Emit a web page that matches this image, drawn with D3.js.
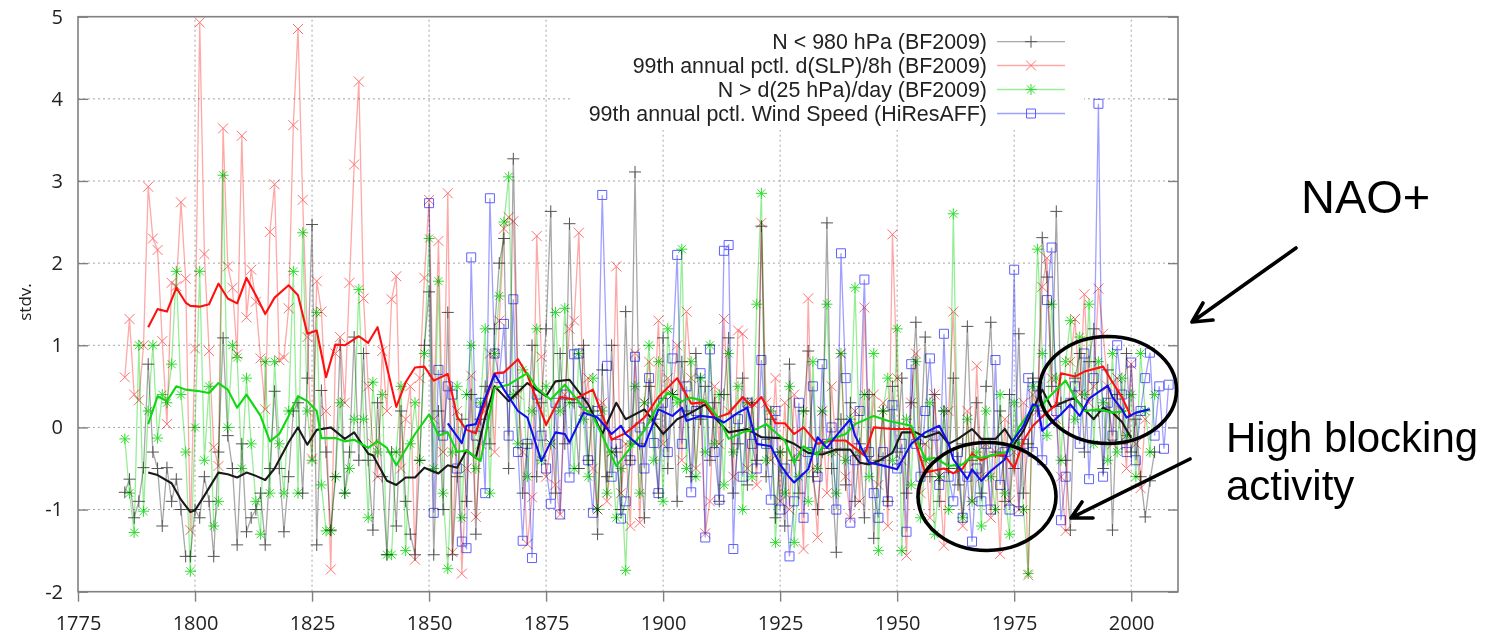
<!DOCTYPE html>
<html><head><meta charset="utf-8">
<script src="https://cdn.jsdelivr.net/npm/d3@7"></script>
<style>body{margin:0;background:#fff}svg{display:block}</style>
</head><body>
<svg id="c" width="1493" height="637"></svg>
<script>
// ---------- DATA ----------
const xTicks = [1775, 1800, 1825, 1850, 1875, 1900, 1925, 1950, 1975, 2000];
const yTicks = [-2, -1, 0, 1, 2, 3, 4, 5];
const seriesNames = [
  "N < 980 hPa (BF2009)",
  "99th annual pctl. d(SLP)/8h (BF2009)",
  "N > d(25 hPa)/day (BF2009)",
  "99th annual pctl. Wind Speed (HiResAFF)"
];
const startBF = 1785;
const startWind = 1850;

// N < 980 hPa, annual (1785-2005)
const stormsN = [
  -0.79,-0.63,-1.10,-0.90,-0.49,
  0.77,-0.30,-0.50,-1.20,-0.49,-0.90,-0.63,-1.00,-1.57,-1.57,
  -1.00,-1.10,-0.60,-0.90,-1.57,-0.30,1.09,-0.10,-0.50,-1.43,
  -0.20,-1.27,-1.10,-1.00,-0.80,-1.43,-0.50,0.44,-0.50,-1.27,
  -0.60,0.20,0.30,-0.80,0.60,2.47,-1.43,0.45,-0.30,-1.25,
  -0.60,1.00,-0.80,-0.30,1.10,-0.40,0.90,-0.40,-1.25,0.30,
  -0.60,-1.55,-0.30,-1.20,0.20,-0.90,-1.30,-1.55,-0.40,1.00,
  1.65,-1.55,0.20,-1.00,1.40,-1.55,-0.60,0.10,-0.90,0.40,
  -1.30,0.10,0.50,-0.20,1.20,2.00,2.30,-0.50,3.27,0.50,
  -0.80,-0.20,1.00,-0.60,0.30,1.20,2.63,-0.80,0.90,-0.20,
  2.48,0.30,-0.50,1.00,-0.40,0.20,-1.30,0.70,-0.60,1.00,
  -0.30,-1.00,1.41,-0.40,3.11,-0.20,-1.10,0.50,0.10,-0.80,
  1.09,-0.50,0.40,-0.90,0.80,0.20,-0.60,0.90,0.10,0.50,
  -0.40,0.30,-0.90,0.40,1.09,-0.80,-0.20,0.60,-0.70,0.30,
  -0.40,2.45,-0.60,0.10,-1.10,-0.30,-1.20,0.77,-0.40,-0.80,
  0.20,0.93,-0.60,-1.00,-0.30,2.49,-0.50,-1.52,0.10,-0.70,
  0.30,-0.90,-0.20,-1.10,0.40,-1.35,-0.40,0.20,-0.90,0.50,
  -0.30,0.60,-0.80,0.30,1.28,-0.20,1.10,-0.60,0.40,-0.90,
  0.20,-0.50,0.60,-0.70,-0.20,1.23,-0.40,0.30,-0.80,0.50,
  1.28,-0.30,0.20,-0.90,0.40,-0.50,1.14,-0.80,-0.20,0.60,
  0.20,2.31,1.83,0.50,2.63,0.30,-0.40,-1.25,0.60,0.90,
  -0.30,0.80,1.20,0.20,-0.50,0.70,-1.25,0.40,-0.20,0.90,
  -0.30,0.10,-0.60,-1.09,-0.65,-0.30
];
// 99th pctl d(SLP)/8h, annual (1785-2003)
const slpTend = [
  0.61,1.32,0.40,0.33,1.00,
  2.93,2.30,2.16,1.05,0.04,1.76,1.72,2.74,1.81,-1.25,
  0.96,4.93,2.11,0.93,-0.24,-0.47,3.64,1.96,1.70,0.89,
  3.55,1.34,1.92,1.53,0.84,0.22,2.38,2.96,0.82,0.85,
  1.45,3.68,4.85,2.77,1.10,-0.38,1.78,1.41,0.20,-1.73,
  0.90,1.10,0.30,1.76,3.20,4.21,1.57,0.50,-0.20,-0.60,
  0.93,0.20,1.56,1.84,-0.50,0.10,0.50,-1.61,0.60,1.82,
  2.77,0.10,2.27,-0.30,2.85,-1.52,0.20,-1.78,-0.50,0.63,
  -1.09,-0.20,0.20,0.90,-0.30,1.30,2.42,2.56,2.51,0.40,
  -0.30,-1.42,-0.85,2.33,0.86,-0.60,-0.20,-0.70,-1.06,0.40,
  1.20,1.30,2.37,0.20,0.60,-0.50,-1.00,0.30,-0.90,-0.30,
  1.96,-0.80,-0.20,-1.20,0.90,-1.16,0.30,0.80,0.10,1.30,
  -0.20,0.60,0.40,1.00,-0.40,1.41,0.60,-0.50,0.30,-1.29,
  -0.90,0.50,-0.20,1.32,0.20,-0.60,1.18,1.14,-0.50,0.30,
  -0.70,2.49,0.30,-0.40,0.60,-0.90,0.30,-1.00,0.40,-0.30,
  -1.48,1.57,-0.50,-1.34,0.20,-0.80,0.50,-0.30,0.90,-0.60,
  -1.10,0.20,-0.90,1.46,-0.40,0.40,-0.70,0.30,-1.20,2.35,
  0.60,-0.40,-1.56,0.30,0.90,-0.80,-0.20,-1.10,0.40,-0.60,
  -1.44,0.20,1.41,-0.50,-1.20,0.20,-0.90,0.75,-0.60,-0.20,
  -1.10,-0.30,-1.54,0.10,-0.90,-0.30,-1.00,0.30,-1.80,0.40,
  0.20,1.71,2.06,0.60,0.10,-0.60,-1.26,0.80,1.32,0.40,
  1.62,0.30,0.50,1.69,1.14,0.50,-0.20,0.60,0.20,-0.50,
  0.77,-0.20,-0.74,0.10
];
// N > d(25 hPa)/day, annual (1785-2005)
const deepening = [
  -0.14,-0.80,-1.28,1.00,-1.02,
  0.20,1.00,-0.13,0.40,0.30,0.77,1.90,0.40,-0.30,-1.75,
  0.00,1.90,-0.40,0.50,-1.20,-0.90,3.07,0.00,1.00,0.85,
  -0.50,0.60,-0.20,-0.90,-1.30,0.80,-0.80,0.80,-0.20,-0.80,
  0.20,1.90,-0.80,2.37,0.20,-0.40,1.40,-0.70,-1.26,-1.26,
  -0.60,0.30,-0.80,-0.50,0.10,1.68,0.10,-1.10,0.55,-0.30,
  0.40,-1.55,-1.55,-0.30,0.50,-1.50,-0.20,0.30,-0.40,0.90,
  2.30,-0.50,1.78,-0.80,-1.72,-0.30,0.50,-1.10,0.40,1.00,
  -0.50,0.30,1.20,-0.80,0.90,1.60,2.50,3.05,0.40,-0.20,
  0.70,-0.60,0.20,1.20,-0.40,0.50,-0.20,1.40,0.20,1.45,
  0.30,-0.50,0.90,0.10,-0.60,0.60,-1.00,0.20,-0.80,-0.30,
  -1.10,-0.50,-1.74,-0.20,0.50,-0.80,0.30,1.00,-0.40,0.80,
  -0.90,1.20,0.40,0.30,2.17,-0.50,0.80,-0.60,0.60,-0.30,
  1.00,-0.20,0.40,-0.70,0.90,-0.30,0.50,-1.00,0.30,-0.60,
  1.50,2.85,-0.40,0.20,-1.40,-0.30,-0.80,0.50,-1.40,-0.60,
  0.20,-0.90,0.80,-0.50,0.20,1.50,-0.30,-0.80,0.90,-0.40,
  0.10,1.70,-0.30,0.40,-0.60,0.90,-1.50,0.20,0.60,-0.40,
  1.20,-1.50,0.10,-0.70,0.80,-1.10,-0.40,0.30,-1.30,-0.60,
  0.20,-1.00,2.60,-0.50,-1.10,0.10,-0.90,-0.30,-1.20,0.20,
  -0.60,-1.00,0.40,-0.80,-1.30,0.30,-0.20,-1.00,-1.78,0.50,
  2.17,0.90,-0.10,1.50,0.60,-0.40,0.80,1.30,0.10,1.10,
  0.40,1.50,-0.20,0.80,0.30,-0.40,0.90,-0.30,0.60,-0.10,
  0.40,-0.60,0.90,0.20,-0.30,0.40
];
// 99th pctl wind speed (HiResAFF), annual (1850-2008)
const windSpeed = [
  2.73,-1.04,0.70,-0.10,0.50,0.40,-0.50,-1.39,-1.47,2.07,
  -0.10,0.30,-0.80,2.79,0.90,0.60,1.26,-0.10,1.56,-0.30,
  -1.38,-0.20,-1.59,0.40,-0.10,-0.50,-0.93,0.30,-1.06,0.40,
  -0.61,0.89,0.90,0.30,-0.40,-1.04,0.20,2.83,0.75,-0.60,
  -0.20,-1.11,-0.90,-0.40,0.86,0.00,-0.50,0.60,-0.19,-0.80,
  0.30,-0.30,0.84,2.10,-0.20,0.50,-0.79,0.20,0.66,-1.34,
  0.95,-0.30,-0.88,2.15,2.22,-1.48,0.10,-0.60,0.30,-0.20,
  -0.50,0.82,-0.20,-0.88,0.20,-1.00,-0.50,-1.57,-0.90,0.30,
  -1.10,-0.30,0.50,-0.60,0.77,-0.20,0.00,-1.00,2.12,0.60,
  -1.16,-0.40,0.20,1.80,-0.30,-0.80,-1.10,-0.30,-0.90,0.27,
  -0.50,-0.20,-1.27,0.77,-0.20,-0.60,0.20,0.84,-0.10,-0.70,
  1.14,-0.60,-0.90,-0.30,-1.10,-0.60,-1.39,-0.50,-0.90,-0.20,
  -1.00,0.82,-0.70,-0.30,-1.00,1.92,-1.02,-0.20,0.60,-0.30,
  0.50,-0.40,1.55,2.19,0.20,-1.13,-0.60,0.30,0.50,-0.20,
  0.90,-0.63,0.60,3.94,-0.60,0.30,-0.10,1.00,0.40,-0.30,
  0.79,-0.40,0.20,0.60,0.91,-0.10,0.50,-0.26,0.52
];

// Smoothed curves (vertices)
const smoothStormsYears = [1790,1792,1795,1797,1799,1800,1802,1805,1807,1809,1811,1813,1815,1817,1820,1822,1824,1826,1829,1832,1834,1837,1838,1841,1843,1845,1847,1849,1852,1854,1856,1858,1860,1862,1864,1867,1871,1875,1877,1880,1884,1887,1890,1892,1896,1900,1903,1906,1909,1911,1914,1918,1921,1925,1928,1931,1934,1937,1940,1942,1944,1946,1949,1951,1954,1956,1959,1961,1963,1966,1968,1971,1973,1975,1977,1979,1981,1983,1986,1988,1990,1992,1994,1996,1998,2000];
const smoothStorms = [-0.55,-0.58,-0.68,-0.88,-1.03,-1.01,-0.83,-0.55,-0.57,-0.61,-0.55,-0.59,-0.64,-0.50,-0.18,0.00,-0.21,-0.03,0.00,-0.14,-0.06,-0.32,-0.34,-0.65,-0.70,-0.61,-0.61,-0.49,-0.56,-0.46,-0.49,-0.28,-0.37,0.13,0.50,0.32,0.54,0.38,0.56,0.58,0.28,-0.08,0.30,0.10,0.22,-0.08,0.10,0.18,0.28,0.12,-0.06,-0.02,-0.12,-0.13,-0.20,-0.31,-0.33,-0.27,-0.27,-0.43,-0.45,-0.41,-0.31,-0.06,-0.06,-0.12,-0.06,-0.20,-0.14,-0.02,-0.14,-0.14,-0.02,-0.20,-0.04,0.22,0.46,0.24,0.32,0.36,0.22,0.10,0.24,0.18,0.07,-0.13];

const smoothSlpYears = [1790,1792,1794,1796,1798,1799,1801,1803,1805,1807,1809,1811,1813,1815,1817,1820,1822,1824,1826,1828,1830,1832,1835,1837,1839,1843,1845,1847,1849,1851,1854,1856,1858,1860,1862,1864,1866,1869,1871,1875,1878,1881,1885,1889,1892,1896,1899,1903,1906,1909,1911,1914,1917,1919,1921,1924,1926,1928,1930,1933,1936,1939,1943,1945,1949,1953,1956,1960,1962,1964,1966,1968,1970,1973,1975,1977,1979,1981,1984,1985,1988,1990,1994,1996,1998,2000];
const smoothSlp = [1.22,1.44,1.41,1.70,1.52,1.48,1.47,1.50,1.75,1.57,1.51,1.82,1.61,1.38,1.58,1.73,1.61,1.14,1.18,0.61,1.01,1.00,1.11,1.03,1.22,0.25,0.55,0.73,0.74,0.57,0.65,0.13,-0.03,-0.07,0.31,0.66,0.67,0.83,0.64,0.03,0.37,0.34,0.46,-0.15,-0.07,0.12,0.37,0.60,0.29,0.31,0.11,0.17,0.37,0.25,0.37,0.05,0.05,-0.08,0.00,-0.20,-0.16,-0.16,-0.34,0.00,-0.02,-0.02,-0.55,-0.50,-0.56,-0.50,-0.32,-0.40,-0.34,-0.34,-0.50,-0.16,0.02,0.13,0.28,0.66,0.62,0.68,0.74,0.55,0.37,0.13];

const smoothDeepYears = [1790,1792,1794,1796,1798,1801,1803,1805,1807,1809,1811,1814,1816,1818,1820,1822,1824,1826,1827,1830,1832,1834,1837,1839,1841,1843,1847,1850,1852,1854,1856,1858,1861,1864,1867,1871,1873,1876,1879,1883,1885,1887,1890,1893,1896,1899,1901,1904,1906,1909,1912,1914,1917,1920,1922,1926,1928,1930,1933,1935,1939,1941,1945,1948,1953,1956,1958,1961,1964,1966,1968,1971,1974,1976,1979,1981,1983,1986,1988,1990,1993,1996,1999];
const smoothDeep = [0.04,0.38,0.32,0.50,0.46,0.44,0.42,0.54,0.46,0.24,0.40,0.14,-0.17,-0.08,0.14,0.38,0.32,0.20,-0.13,-0.13,-0.17,-0.15,-0.25,-0.17,-0.25,-0.46,-0.08,0.16,-0.10,-0.06,-0.30,-0.28,-0.41,0.48,0.52,0.66,0.48,0.34,0.52,0.24,0.14,-0.10,-0.47,-0.25,-0.04,0.28,0.42,0.32,0.36,0.32,0.10,-0.14,-0.06,-0.02,0.04,-0.16,-0.43,-0.23,-0.33,-0.16,-0.08,0.04,0.14,0.08,0.02,-0.39,-0.37,-0.47,-0.45,-0.35,-0.37,-0.33,-0.29,0.00,0.24,0.28,0.40,0.57,0.36,0.20,0.22,0.18,0.20];

const smoothWindYears = [1854,1857,1858,1860,1862,1864,1866,1869,1871,1874,1877,1879,1880,1883,1886,1889,1891,1892,1895,1896,1899,1902,1904,1905,1908,1911,1913,1916,1918,1920,1923,1925,1927,1928,1931,1933,1935,1937,1940,1941,1944,1946,1950,1953,1956,1959,1961,1962,1965,1966,1968,1970,1973,1974,1977,1979,1980,1981,1983,1985,1987,1989,1991,1995,1996,1998,1999,2001,2004];
const smoothWind = [0.05,-0.19,0.02,0.04,0.36,0.65,0.46,0.20,0.12,-0.41,-0.06,-0.08,-0.18,0.18,0.12,-0.08,0.02,-0.08,-0.23,-0.23,0.22,0.14,0.24,0.08,0.14,0.12,0.06,0.18,0.24,-0.20,-0.23,-0.45,-0.61,-0.67,-0.51,-0.12,-0.25,-0.10,0.10,-0.10,-0.43,-0.45,-0.51,-0.20,-0.06,0.02,-0.20,-0.39,-0.63,-0.51,-0.65,-0.53,-0.39,-0.22,0.02,0.28,0.26,-0.04,0.06,0.16,0.28,0.14,0.35,0.51,0.37,0.22,0.12,0.18,0.22];

// ---------- DRAWING ----------
const svg = d3.select('#c');
const W = 1493, H = 637;
const x = d3.scaleLinear().domain([1775, 2010]).range([78, 1178]);
const y = d3.scaleLinear().domain([-2, 5]).range([591.7, 16.7]);
const FONT = "'Open Sans', 'DejaVu Sans', sans-serif";
const LFONT = "'Liberation Sans', Arial, sans-serif";

svg.append('rect').attr('width', W).attr('height', H).attr('fill', '#fff');

// grid
const grid = svg.append('g').attr('stroke', '#9a9a9a').attr('stroke-width', 0.9)
  .attr('stroke-dasharray', '2,3').attr('fill', 'none');
yTicks.filter(v => v > -2 && v < 5).forEach(v => {
  grid.append('line').attr('x1', x(1775)).attr('x2', x(2010)).attr('y1', y(v)).attr('y2', y(v));
});
xTicks.filter(t => t > 1775).forEach(t => {
  grid.append('line').attr('x1', x(t)).attr('x2', x(t)).attr('y1', y(-2)).attr('y2', y(5));
});

// legend background (opaque key box)
svg.append('rect').attr('x', 570).attr('y', 18).attr('width', 514).attr('height', 112).attr('fill', '#fff');

const styles = [
  {line: '#a8a8a8', mark: '#555555', sym: 'plus',   smooth: '#1a1a1a'},
  {line: '#ffa8a8', mark: '#ff7070', sym: 'cross',  smooth: '#ff1010'},
  {line: '#98ee98', mark: '#30dd30', sym: 'star',   smooth: '#10d810'},
  {line: '#a0a0ff', mark: '#6060ff', sym: 'square', smooth: '#1010ee'}
];
const symPath = {
  plus: 'M-6,0H6M0,-6V6',
  cross: 'M-5,-5L5,5M-5,5L5,-5',
  star: 'M-5.5,0H5.5M0,-5.5V5.5M-4,-4L4,4M-4,4L4,-4',
  square: 'M-4.5,-4.5h9v9h-9z'
};

const rawSets = [
  {start: startBF, vals: stormsN},
  {start: startBF, vals: slpTend},
  {start: startBF, vals: deepening},
  {start: startWind, vals: windSpeed}
];
const line = d3.line().x(d => x(d.year)).y(d => y(d.v));

const rawLayer = svg.append('g').style('mix-blend-mode', 'multiply');
rawSets.forEach((s, i) => {
  const pts = s.vals.map((v, k) => ({year: s.start + k, v}));
  const g = rawLayer.append('g').style('mix-blend-mode', 'multiply');
  g.append('path').datum(pts).attr('d', line).attr('fill', 'none')
    .attr('stroke', styles[i].line).attr('stroke-width', 1.3);
  g.selectAll('path.m').data(pts).join('path').attr('class', 'm')
    .attr('transform', d => `translate(${x(d.year)},${y(d.v)})`)
    .attr('d', symPath[styles[i].sym]).attr('fill', 'none')
    .attr('stroke', styles[i].mark).attr('stroke-width', 1);
});

const smoothSets = [
  [smoothStormsYears, smoothStorms],
  [smoothSlpYears, smoothSlp],
  [smoothDeepYears, smoothDeep],
  [smoothWindYears, smoothWind]
];
smoothSets.forEach(([yrs, vals], i) => {
  const pts = yrs.map((yr, k) => ({year: yr, v: vals[k]}));
  svg.append('path').datum(pts).attr('d', line).attr('fill', 'none')
    .attr('stroke', styles[i].smooth).attr('stroke-width', 2.1).attr('stroke-linejoin', 'round');
});

// border
svg.append('rect').attr('x', x(1775)).attr('y', y(5)).attr('width', x(2010) - x(1775))
  .attr('height', y(-2) - y(5)).attr('fill', 'none').attr('stroke', '#808080').attr('stroke-width', 1.6);

// axes (ASCII hyphen for negatives, as in the reference)
const fmt = d => String(d);
const axL = svg.append('g').attr('transform', `translate(${x(1775)},0)`)
  .call(d3.axisLeft(y).tickValues(yTicks).tickFormat(fmt)
    .tickSizeInner(-10).tickSizeOuter(0).tickPadding(15));
const axR = svg.append('g').attr('transform', `translate(${x(2010)},0)`)
  .call(d3.axisRight(y).tickValues(yTicks).tickSizeInner(-10).tickSizeOuter(0).tickFormat(''));
const axB = svg.append('g').attr('transform', `translate(0,${y(-2)})`)
  .call(d3.axisBottom(x).tickValues(xTicks).tickFormat(fmt)
    .tickSizeInner(10).tickSizeOuter(0).tickPadding(14));
[axL, axR, axB].forEach(a => {
  a.select('.domain').remove();
  a.selectAll('line').attr('stroke', '#808080').attr('stroke-width', 1.4);
  a.selectAll('text').attr('font-family', FONT).attr('font-size', 20).attr('fill', '#222');
});

// y label
svg.append('text').attr('transform', 'translate(24,302) rotate(-90)')
  .attr('text-anchor', 'middle').attr('dominant-baseline', 'central')
  .attr('font-family', FONT).attr('font-size', 17).attr('fill', '#222').text('stdv.');

// legend
const legY = [41.7, 65.5, 89.5, 113.5];
const leg = svg.append('g');
const legTexts = seriesNames.map((n, i) => leg.append('text').attr('x', 987).attr('y', legY[i] + 7.3)
  .attr('text-anchor', 'end')
  .attr('font-family', LFONT).attr('font-size', 20).attr('fill', '#222').text(n));
const maxW = d3.max(legTexts, t => t.node().getComputedTextLength());
const legFs = Math.min(21.4, 20 * 405 / maxW);
legTexts.forEach(t => t.attr('font-size', legFs));
seriesNames.forEach((n, i) => {
  leg.append('line').attr('x1', 997).attr('x2', 1065).attr('y1', legY[i]).attr('y2', legY[i])
    .attr('stroke', styles[i].line).attr('stroke-width', 1.3);
  leg.append('path').attr('transform', `translate(1031,${legY[i]})`).attr('d', symPath[styles[i].sym])
    .attr('fill', 'none').attr('stroke', styles[i].mark).attr('stroke-width', 1);
});

// annotations
const ann = svg.append('g').attr('stroke', '#000').attr('stroke-width', 3.6).attr('fill', 'none')
  .attr('stroke-linecap', 'round').attr('stroke-linejoin', 'round');
ann.append('ellipse').attr('cx', 1108).attr('cy', 390).attr('rx', 68.5).attr('ry', 53.5);
ann.append('ellipse').attr('cx', 987).attr('cy', 496.5).attr('rx', 69).attr('ry', 54);
ann.append('path').attr('d', 'M1296,248L1192,322M1213,320L1192,322L1203,303');
ann.append('path').attr('d', 'M1190,459L1071,518M1093,518L1071,518L1082,502');

svg.append('text').attr('x', 1301).attr('y', 213).attr('font-family', LFONT).attr('font-size', 47)
  .attr('fill', '#000').text('NAO+');
svg.append('text').attr('x', 1226).attr('y', 451.5).attr('font-family', LFONT).attr('font-size', 42)
  .attr('fill', '#000').text('High blocking');
svg.append('text').attr('x', 1226).attr('y', 500).attr('font-family', LFONT).attr('font-size', 42)
  .attr('fill', '#000').text('activity');
</script>
</body></html>
